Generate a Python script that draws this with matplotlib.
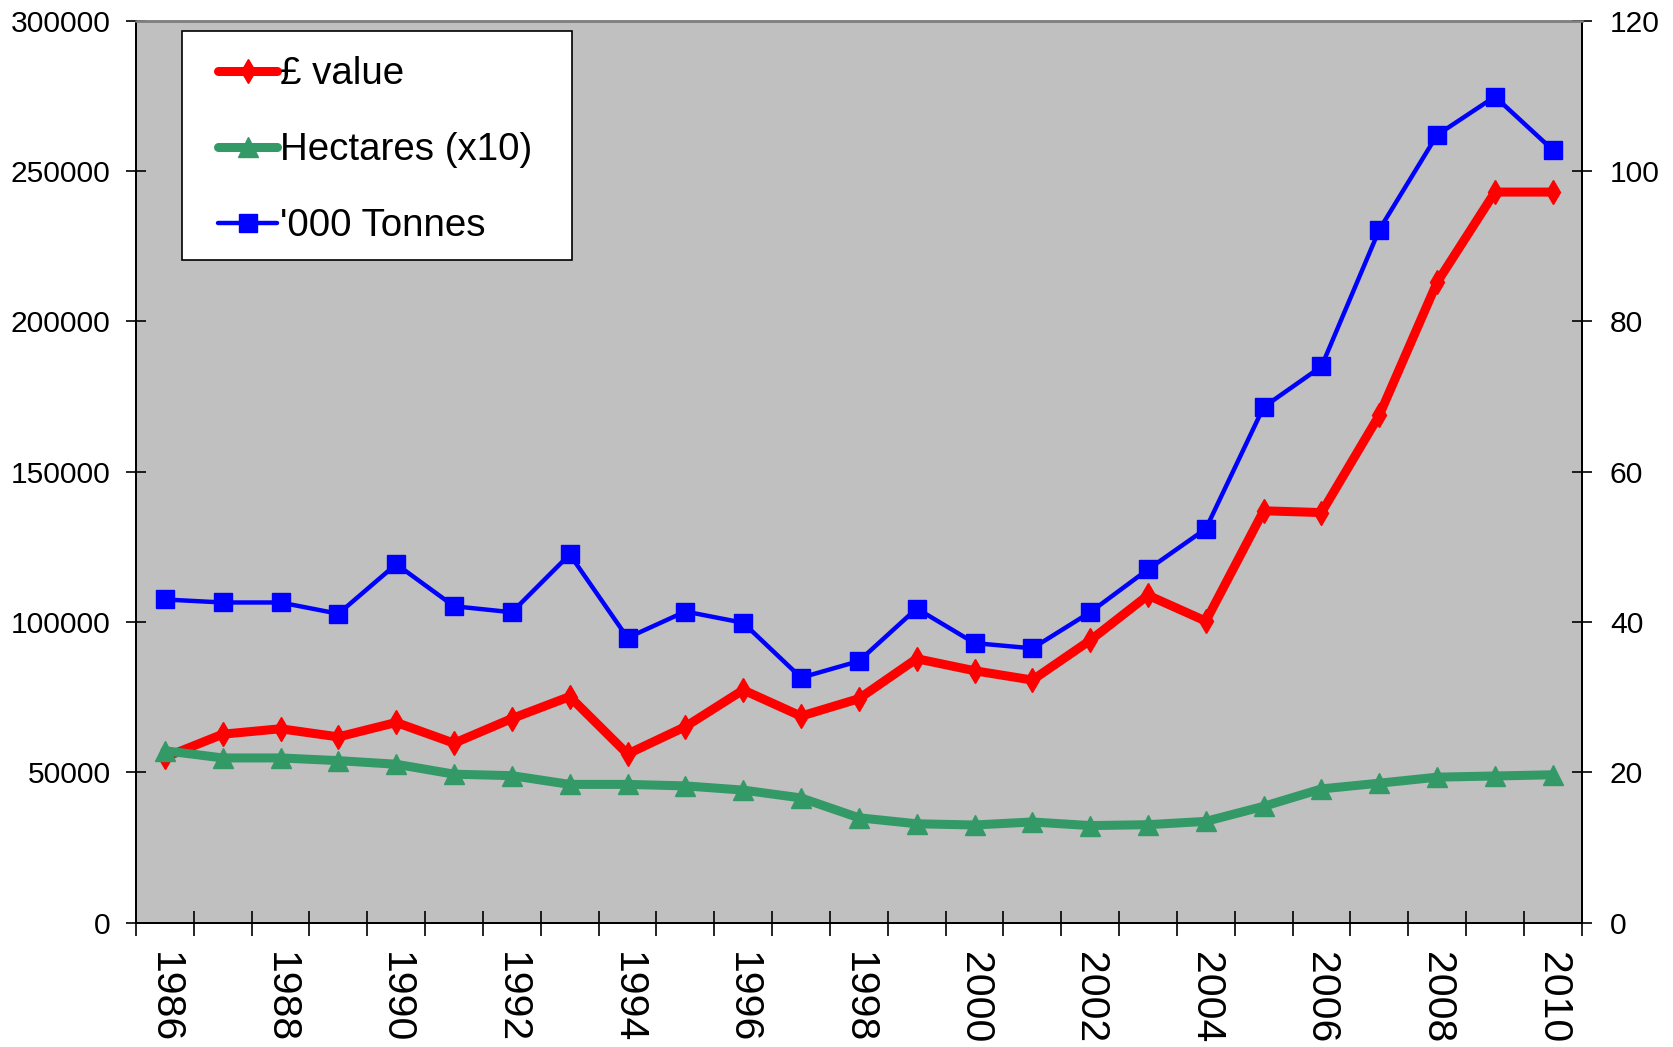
import numpy as np
import matplotlib
matplotlib.use("Agg")
import matplotlib.pyplot as plt
from matplotlib.lines import Line2D
from matplotlib.patches import Rectangle

plt.rcParams['font.family'] = ['Liberation Sans', 'DejaVu Sans']

# ---- data ----
years = list(range(1986, 2011))
value_gbp = [55000, 62700, 64500, 61800, 66600, 59700, 67900, 75200, 56100, 65200,
             77400, 68700, 74500, 87800, 83800, 80700, 93900, 108900, 100300, 137000,
             136400, 168800, 213000, 243000, 243000]
hectares_x10 = [57200, 54800, 54800, 53900, 52700, 49400, 48900, 46000, 46000, 45500,
                44100, 41500, 34900, 32900, 32500, 33500, 32300, 32600, 33700, 38700,
                44500, 46400, 48400, 48800, 49200]
tonnes_000 = [43.0, 42.6, 42.6, 41.1, 47.7, 42.1, 41.3, 49.0, 37.9, 41.4,
              39.9, 32.6, 34.8, 41.8, 37.2, 36.5, 41.3, 47.0, 52.4, 68.6,
              74.0, 92.2, 104.8, 109.9, 102.8]
left_ticks = [0, 50000, 100000, 150000, 200000, 250000, 300000]
right_ticks = [0, 20, 40, 60, 80, 100, 120]
label_years = list(range(1986, 2011, 2))
series_labels = ['£ value', 'Hectares (x10)', "'000 Tonnes"]

RED = '#FF0000'
GREEN = '#339966'
BLUE = '#0000FF'

W, H = 1673, 1047
fig = plt.figure(figsize=(W / 100, H / 100), dpi=100)
L, R, T, B = 136, 1581.7, 20.7, 922.7
ax = fig.add_axes([L / W, (H - B) / H, (R - L) / W, (B - T) / H])
ax.set_facecolor('#C0C0C0')

ax.plot(years, value_gbp, color=RED, lw=6.5, marker='d', ms=12, mec=RED, mfc=RED,
        solid_joinstyle='round', solid_capstyle='round', zorder=2)
ax.plot(years, hectares_x10, color=GREEN, lw=6.5, marker='^', ms=14, mec=GREEN, mfc=GREEN,
        solid_joinstyle='round', solid_capstyle='round', zorder=3)
ax.set_ylim(0, 300000)
ax.set_xlim(1985.5, 2010.5)

ax2 = ax.twinx()
ax2.plot(years, tonnes_000, color=BLUE, lw=3.2, marker='s', ms=13.5, mec=BLUE, mfc=BLUE,
         solid_joinstyle='round', zorder=3)
ax2.set_ylim(0, 120)

# ticks
ax.set_yticks(left_ticks)
ax.set_yticklabels([str(v) for v in left_ticks])
ax2.set_yticks(right_ticks)
ax2.set_yticklabels([str(v) for v in right_ticks])
ax.tick_params(axis='y', direction='inout', length=14.4, width=1.2, pad=11.0,
               labelsize=21.6, color='black')
ax2.tick_params(axis='y', direction='inout', length=14.4, width=1.2, pad=13.0,
                labelsize=21.6, color='black')

ax.set_xticks(np.arange(1985.5, 2011, 1.0))
ax.tick_params(axis='x', which='major', direction='inout', length=18, width=1.2,
               labelbottom=False)
ax.set_xticks(label_years, minor=True)
ax.set_xticklabels([str(y) for y in label_years], minor=True, rotation=-90)
ax.tick_params(axis='x', which='minor', length=0, pad=21, labelsize=29.5)

for a in (ax, ax2):
    a.spines['top'].set_color('#808080')
    a.spines['top'].set_linewidth(1.8)
    for s in ('left', 'right', 'bottom'):
        a.spines[s].set_color('black')
        a.spines[s].set_linewidth(1.4)

# legend box (drawn separately so horizontal and vertical padding can differ)
box = Rectangle((182 / W, 1 - 260 / H), (572 - 182) / W, (260 - 31) / H,
                transform=fig.transFigure, facecolor='white', edgecolor='black',
                linewidth=1.2, zorder=5)
fig.add_artist(box)

handles = [
    Line2D([], [], color=RED, lw=6.5, marker='d', ms=12, solid_capstyle='round'),
    Line2D([], [], color=GREEN, lw=6.5, marker='^', ms=14, solid_capstyle='round'),
    Line2D([], [], color=BLUE, lw=3.2, marker='s', ms=13.5, solid_capstyle='round'),
]
leg = fig.legend(handles, series_labels, loc='upper left',
                 bbox_to_anchor=(218 / W, 1 - 56 / H), bbox_transform=fig.transFigure,
                 borderaxespad=0, fontsize=27.7, frameon=False,
                 handlelength=1.54, handletextpad=0.08, borderpad=0,
                 labelspacing=1.04)
leg.set_zorder(6)

fig.savefig('out.png', dpi=100, facecolor='white')
